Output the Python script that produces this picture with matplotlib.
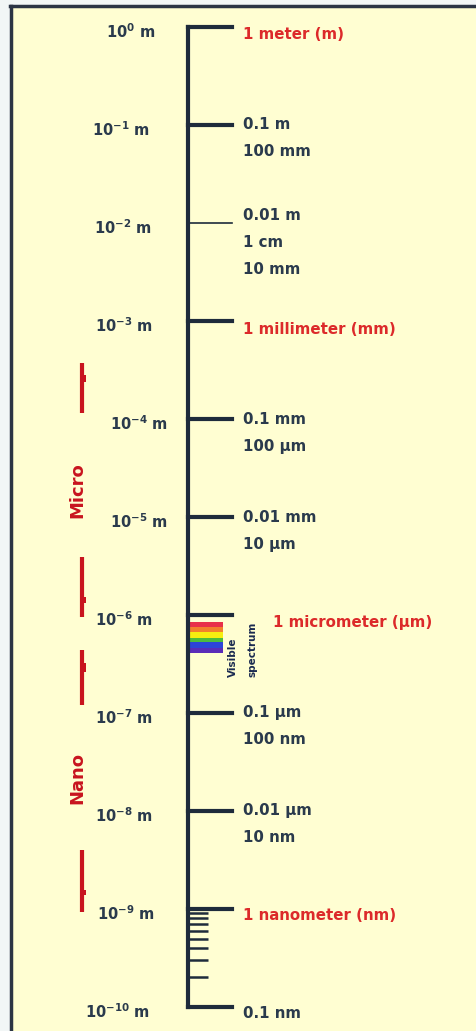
import matplotlib
matplotlib.use('Agg')
import matplotlib.pyplot as plt
from matplotlib.patches import Rectangle

# ---------------- data ----------------
decade_exponents = [0, -1, -2, -3, -4, -5, -6, -7, -8, -9, -10]
left_labels = [r'$\mathbf{10^{%d}}$ m' % e for e in decade_exponents]
right_labels = [
    ['1 meter (m)'],
    ['0.1 m', '100 mm'],
    ['0.01 m', '1 cm', '10 mm'],
    ['1 millimeter (mm)'],
    ['0.1 mm', '100 µm'],
    ['0.01 mm', '10 µm'],
    ['1 micrometer (µm)'],
    ['0.1 µm', '100 nm'],
    ['0.01 µm', '10 nm'],
    ['1 nanometer (nm)'],
    ['0.1 nm'],
]
highlighted = [True, False, False, True, False, False, True, False, False, True, False]
minor_values = [9e-10, 8e-10, 7e-10, 6e-10, 5e-10, 4e-10, 3e-10, 2e-10]

spectrum_edges_nm = [850, 755, 670, 585, 530, 460, 410]
spectrum_colors = ['#e8304a', '#f2802c', '#f6ee10', '#4cbc3c', '#2c44d8', '#5a2cb8']
spectrum_words = ['Visible', 'spectrum']

range_names = ['Micro', 'Nano']
range_segments = [[(-3.43, -3.94), (-5.41, -6.02)],
                  [(-6.36, -6.92), (-8.40, -9.03)]]
range_tabs = [[(-3.55, -3.62), (-5.82, -5.88)],
              [(-6.49, -6.58), (-8.81, -8.86)]]
range_label_exp = [-4.73, -7.66]

# ---------------- layout / style ----------------
W, H = 477, 1031
TOP_PX, PX_PER_DEC = 27, 98.0
AXIS_X, TICK_END, MINOR_END = 188, 232, 208
DARK = '#1e2b3b'
TEXT = '#2a3a4c'
RED = '#dc2a2a'
BRACKET = '#c8141e'
BG = '#fffed2'

fig = plt.figure(figsize=(W / 100, H / 100), dpi=100)
fig.patch.set_facecolor('#f2f6f6')
fig.patches.append(Rectangle((10 / W, 0), 1, 1 - 5 / H, transform=fig.transFigure,
                             facecolor=BG, edgecolor='none', zorder=-2))
fig.lines.append(plt.Line2D([11.5 / W, 11.5 / W], [0, 1 - 5.5 / H], transform=fig.transFigure,
                            color='#2b3444', lw=2.5, zorder=-1))
fig.lines.append(plt.Line2D([10 / W, 1], [1 - 5.5 / H, 1 - 5.5 / H], transform=fig.transFigure,
                            color='#2b3444', lw=2.5, zorder=-1))

ax = fig.add_axes([0, 0, 1, 1])
ax.set_zorder(2)
ax.set_facecolor('none')
ax.patch.set_alpha(0)
ax.set_xlim(0, W)
ax.set_yscale('log')
ax.set_ylim(10 ** (-(H - TOP_PX) / PX_PER_DEC), 10 ** (TOP_PX / PX_PER_DEC))
ax.axis('off')

# main axis line
ax.plot([AXIS_X, AXIS_X], [10.0 ** decade_exponents[-1], 10.0 ** decade_exponents[0]],
        color=DARK, lw=3, solid_capstyle='projecting')

left_x = [155, 150, 152, 153, 168, 168, 153, 153, 153, 155, 150]
right_first_offset = [-8, 0, 7, -8, 0, 0, -8, 0, 0, -7, -6]

for i, e in enumerate(decade_exponents):
    v = 10.0 ** e
    lw = 1.2 if e == -2 else 3
    ax.plot([AXIS_X, TICK_END], [v, v], color=DARK, lw=lw, solid_capstyle='projecting')
    ax.annotate(left_labels[i], xy=(left_x[i], v), xytext=(0, -5), textcoords='offset pixels',
                ha='right', va='center', fontsize=10.5, fontweight='bold', color=TEXT,
                family='DejaVu Sans')
    x0 = 273 if e == -6 else 243
    for j, line in enumerate(right_labels[i]):
        ax.annotate(line, xy=(x0, v), xytext=(0, right_first_offset[i] - 27 * j),
                    textcoords='offset pixels', ha='left', va='center',
                    fontsize=10.8, fontweight='bold',
                    color=RED if highlighted[i] else TEXT, family='DejaVu Sans')

for mv in minor_values:
    ax.plot([AXIS_X, MINOR_END], [mv, mv], color=DARK, lw=1.8, solid_capstyle='butt')

# visible spectrum bands
for k, c in enumerate(spectrum_colors):
    top = spectrum_edges_nm[k] * 1e-9
    bot = spectrum_edges_nm[k + 1] * 1e-9
    ax.fill_between([AXIS_X + 1.5, 223], [bot, bot], [top, top], color=c, lw=0)

for k, word in enumerate(spectrum_words):
    ax.text(233 + 20 * k, 10 ** (-(677 - TOP_PX) / PX_PER_DEC), word, rotation=90,
            rotation_mode='anchor', ha='left', va='center', fontsize=7.5,
            fontweight='bold', color='#1a2a50', family='DejaVu Sans')

# Micro / Nano brackets
for name, segs, tabs, lab in zip(range_names, range_segments, range_tabs, range_label_exp):
    for a, b in segs:
        ax.plot([82, 82], [10 ** a, 10 ** b], color=BRACKET, lw=3, solid_capstyle='butt')
    for a, b in tabs:
        ax.fill_between([82, 86.5], [10 ** b, 10 ** b], [10 ** a, 10 ** a], color=BRACKET, lw=0)
    ax.text(77, 10 ** lab, name, rotation=90, ha='center', va='center',
            fontsize=13, fontweight='bold', color=BRACKET, family='DejaVu Sans')

fig.savefig('out.png', dpi=100, facecolor=fig.get_facecolor())
